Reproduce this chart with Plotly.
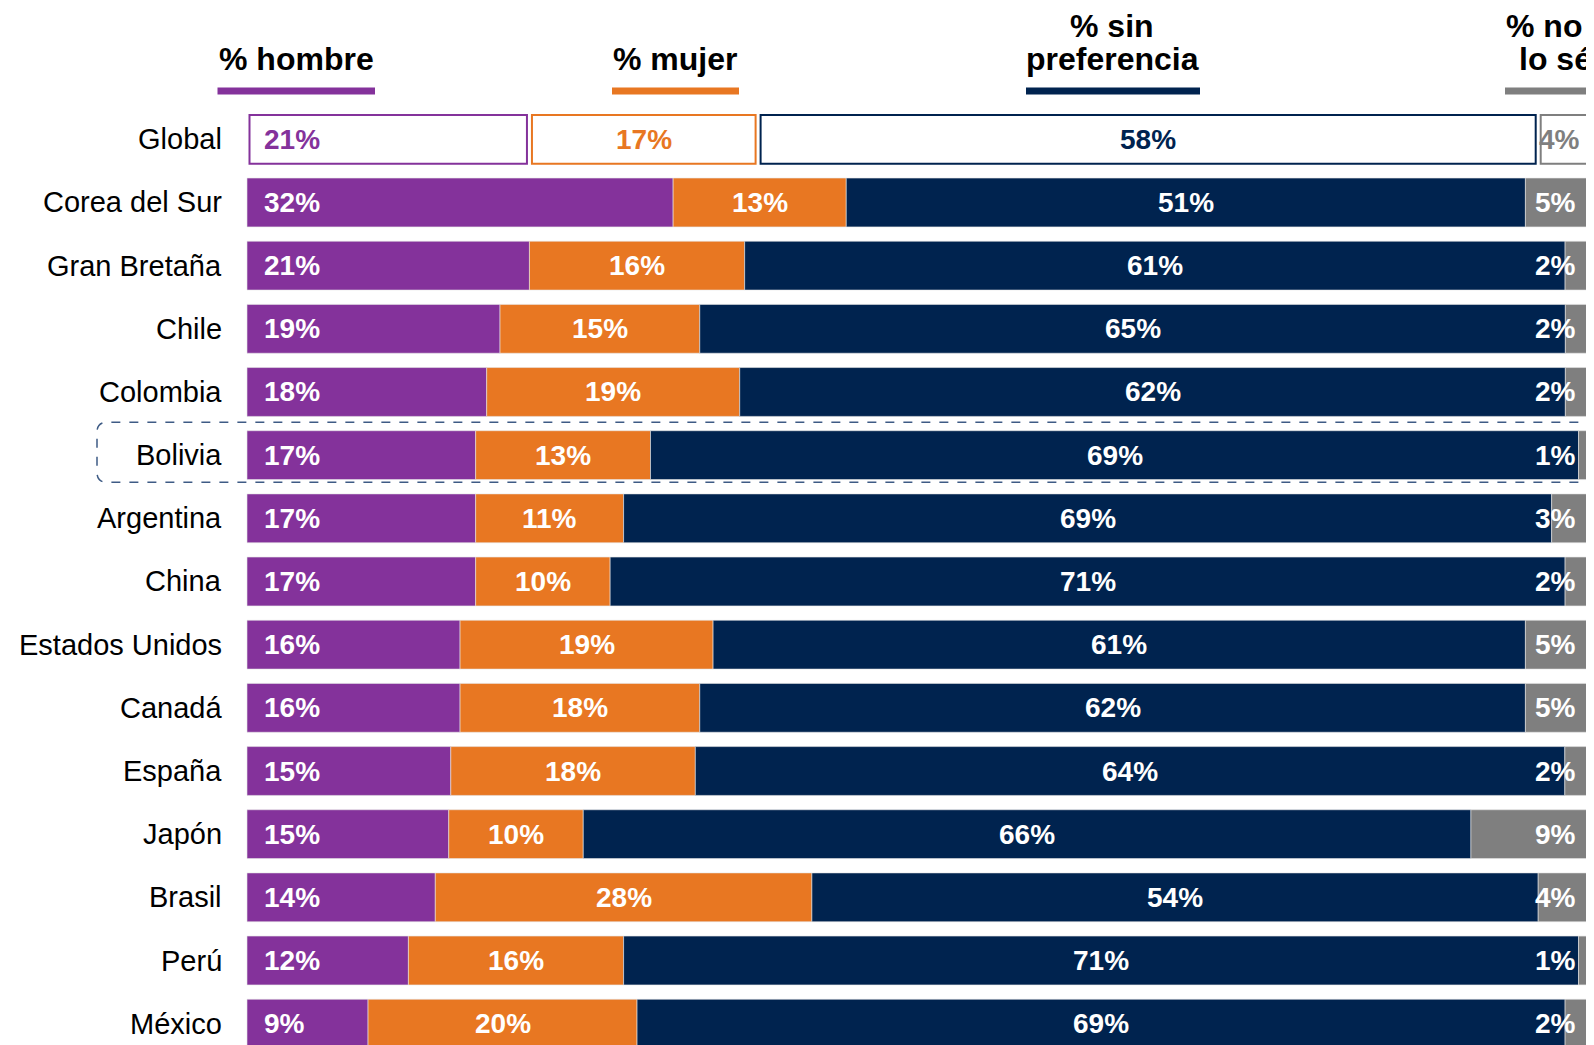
import plotly.graph_objects as go

# Data
countries = ["Global", "Corea del Sur", "Gran Bretaña", "Chile", "Colombia", "Bolivia",
             "Argentina", "China", "Estados Unidos", "Canadá", "España", "Japón",
             "Brasil", "Perú", "México"]
hombre = [21, 32, 21, 19, 18, 17, 17, 17, 16, 16, 15, 15, 14, 12, 9]
mujer = [17, 13, 16, 15, 19, 13, 11, 10, 19, 18, 18, 10, 28, 16, 20]
sin_pref = [58, 51, 61, 65, 62, 69, 69, 71, 61, 62, 64, 66, 54, 71, 69]
no_se = [4, 5, 2, 2, 2, 1, 3, 2, 5, 5, 2, 9, 4, 1, 2]
highlight = "Bolivia"

PURPLE = "#84329B"
ORANGE = "#E87722"
NAVY = "#00234F"
GRAY = "#7F7F7F"
FONT = "Liberation Sans, Arial, sans-serif"

series = [("% hombre", hombre, PURPLE),
          ("% mujer", mujer, ORANGE),
          ("% sin preferencia", sin_pref, NAVY),
          ("% no lo sé", no_se, GRAY)]

W, H = 1594, 1045
OFF = 8  # page body margin: figure is drawn 8px right/down of the window corner


def px(p):
    # window pixel -> figure pixel
    return p - OFF


X0_PX, X1_PX = px(247), px(1592)          # pixel span of 0..100 %
PX_PER_UNIT = (X1_PX - X0_PX) / 100
ROW0_PX, ROW_STEP = px(139.3), 63.17      # first row centre, row spacing
BAR_W = 0.773

xrange_ = [-X0_PX / PX_PER_UNIT, (W - X0_PX) / PX_PER_UNIT]
yrange_ = [(H - ROW0_PX) / ROW_STEP, -ROW0_PX / ROW_STEP]

n = len(countries)
totals = [hombre[i] + mujer[i] + sin_pref[i] + no_se[i] for i in range(n)]
shares = [[v * 100 / totals[i] for i, v in enumerate(vals)] for _, vals, _ in series]
bases = []
run = [0.0] * n
for s in shares:
    bases.append(run[:])
    run = [run[i] + s[i] for i in range(n)]

fig = go.Figure()
inset = 2.5 / PX_PER_UNIT
rows = list(range(1, n))
for k, (name, vals, color) in enumerate(series):
    # filled country bars
    fig.add_trace(go.Bar(
        y=rows, x=[shares[k][i] for i in rows], base=[bases[k][i] for i in rows],
        orientation="h", width=BAR_W, marker=dict(color=color, line=dict(width=0.6, color="#e6e6e6")),
        name=name, hoverinfo="skip"))
    # outlined global bar
    fig.add_trace(go.Bar(
        y=[0], x=[shares[k][0] - 2 * inset], base=[bases[k][0] + inset],
        orientation="h", width=BAR_W,
        marker=dict(color="white", line=dict(width=2, color=color)),
        name=name, hoverinfo="skip"))

annotations = []
for i in range(n):
    # country labels
    annotations.append(dict(x=0, y=i, text=countries[i], xanchor="right", xshift=-23,
                            showarrow=False, font=dict(family=FONT, size=29, color="black")))
    for k, (name, vals, color) in enumerate(series):
        tc = color if i == 0 else "white"
        txt = f"<b>{vals[i]}%</b>"
        if k == 0:
            a = dict(x=bases[k][i], xanchor="left", xshift=15)
        elif k == 3:
            a = dict(x=bases[k][i] + shares[k][i], xanchor="right", xshift=-10 if i == 0 else -14)
        else:
            a = dict(x=bases[k][i] + shares[k][i] / 2, xanchor="center")
        a.update(y=i, text=txt, showarrow=False, font=dict(family=FONT, size=28, color=tc))
        annotations.append(a)

# column headers with coloured underlines (window pixel positions)
headers = [
    ([("% hombre", 296)], PURPLE, 217.5, 375),
    ([("% mujer", 675)], ORANGE, 612, 739),
    ([("% sin", 1112), ("preferencia", 1112)], NAVY, 1026, 1200),
    ([("% no", 1544), ("lo sé", 1555)], GRAY, 1505, 1600),
]
shapes = []
for lines, color, ux0, ux1 in headers:
    ys = [59] if len(lines) == 1 else [25.5, 59]
    for (ln, cx), yp in zip(lines, ys):
        annotations.append(dict(xref="paper", yref="paper", x=px(cx) / W, y=1 - px(yp) / H,
                                text=f"<b>{ln}</b>", xanchor="center", yanchor="middle",
                                showarrow=False, font=dict(family=FONT, size=32, color="black")))
    shapes.append(dict(type="rect", xref="paper", yref="paper", x0=px(ux0) / W, x1=px(ux1) / W,
                       y0=1 - px(94.5) / H, y1=1 - px(87.5) / H, fillcolor=color, line=dict(width=0)))

# dashed highlight around one country
hi = countries.index(highlight)
bx0, bx1 = (px(97) - X0_PX) / PX_PER_UNIT, 103
by0, by1 = hi - 0.52, hi + 0.43
rx, ry = 10 / PX_PER_UNIT, 10 / ROW_STEP
path = (f"M {bx1},{by0} L {bx0 + rx},{by0} Q {bx0},{by0} {bx0},{by0 + ry} "
        f"L {bx0},{by1 - ry} Q {bx0},{by1} {bx0 + rx},{by1} L {bx1},{by1}")
shapes.append(dict(type="path", xref="x", yref="y", path=path,
                   line=dict(color="#3E5B85", width=1.5, dash="dash")))

fig.update_layout(
    width=W, height=H, margin=dict(l=0, r=0, t=0, b=0),
    barmode="overlay", showlegend=False,
    plot_bgcolor="white", paper_bgcolor="white",
    xaxis=dict(range=xrange_, visible=False, fixedrange=True),
    yaxis=dict(range=yrange_, visible=False, fixedrange=True),
    annotations=annotations, shapes=shapes,
)

fig.write_html("out.html")
